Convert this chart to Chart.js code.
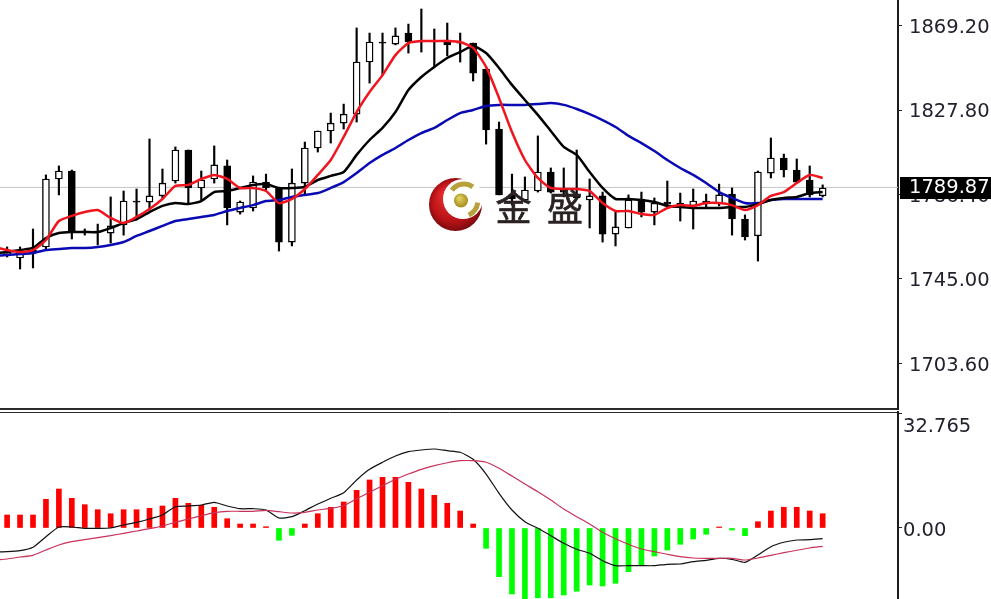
<!DOCTYPE html>
<html lang="zh">
  <head>
    <meta charset="UTF-8" />
    <title>金盛</title>
    <script src="https://cdn.jsdelivr.net/npm/chart.js"></script>
    <style>
      html, body { margin: 0; padding: 0; background: #fff; overflow: hidden; }
      canvas { position: absolute; left: 0; }
      #priceChart { top: 0; }
      #macdChart { top: 411px; }
    </style>
  </head>
  <body>
    <canvas id="priceChart" width="991" height="410"></canvas>
    <canvas id="macdChart" width="991" height="188"></canvas>

    <script>
      // values
      const opens = [1757.2,1755.3,1759.2,1760.7,1794.0,1797.9,1768.5,1768.5,1767.5,1771.5,1783.2,1782.7,1785.7,1793.0,1808.2,1789.6,1794.0,1800.4,1777.8,1779.8,1792.5,1789.6,1763.1,1792.0,1809.2,1817.5,1821.4,1825.8,1851.3,1861.1,1860.1,1865.5,1861.6,1861.6,1862.1,1861.1,1860.6,1847.9,1818.5,1786.2,1783.7,1788.1,1797.4,1788.6,1786.6,1783.7,1785.7,1767.0,1770.0,1784.2,1777.8,1782.7,1782.2,1780.8,1783.2,1782.2,1786.6,1774.4,1766.1,1796.9,1804.3,1798.4,1793.5,1785.7];
      const closes = [1758.2,1758.2,1757.7,1794.0,1797.9,1768.0,1768.0,1768.0,1771.0,1783.2,1782.7,1785.7,1792.0,1808.2,1789.6,1793.5,1800.9,1779.8,1782.7,1792.5,1789.6,1763.1,1792.0,1809.2,1817.5,1821.4,1825.8,1851.3,1861.1,1860.6,1864.1,1861.1,1861.1,1861.1,1859.7,1860.6,1845.9,1818.0,1786.2,1784.2,1788.6,1797.4,1787.6,1787.6,1784.7,1785.7,1767.0,1770.5,1783.7,1777.8,1782.2,1781.7,1780.8,1783.2,1782.2,1786.2,1774.4,1765.6,1797.4,1804.3,1798.4,1792.5,1786.2,1789.6];
      const highs = [1760.7,1760.7,1769.5,1796.0,1800.4,1798.4,1769.5,1771.9,1785.2,1788.1,1789.1,1813.6,1798.9,1809.7,1808.2,1797.9,1810.2,1803.3,1783.2,1795.5,1796.4,1789.6,1798.9,1812.1,1817.5,1826.3,1830.7,1868.0,1865.5,1865.5,1868.0,1869.9,1877.3,1867.5,1870.4,1865.5,1860.6,1847.9,1821.9,1796.4,1795.0,1815.1,1799.4,1799.4,1808.2,1794.0,1787.6,1777.8,1786.2,1787.6,1784.7,1793.0,1787.1,1789.1,1786.6,1791.5,1789.6,1776.4,1797.9,1814.1,1806.2,1803.8,1800.4,1791.1];
      const lows = [1755.8,1749.9,1750.4,1759.2,1786.2,1764.6,1766.5,1761.7,1762.6,1766.5,1773.9,1778.8,1784.7,1792.0,1781.7,1783.7,1792.0,1771.5,1776.8,1778.3,1788.6,1758.7,1761.2,1786.2,1807.2,1811.6,1818.5,1821.9,1841.0,1844.9,1859.7,1855.7,1856.2,1849.4,1854.3,1851.3,1842.0,1811.1,1786.2,1781.2,1782.7,1787.6,1787.1,1785.2,1784.7,1770.0,1763.1,1761.2,1770.0,1775.4,1771.5,1780.3,1773.4,1769.5,1780.3,1780.8,1766.5,1764.1,1753.8,1794.5,1795.0,1792.0,1785.2,1785.2];
      // the line arrays start one bar earlier, off the left edge
      const redMa = [1760.7,1759.2,1758.2,1759.2,1764.1,1773.4,1775.9,1777.8,1778.8,1774.9,1772.4,1775.4,1779.3,1784.2,1790.6,1791.1,1794.0,1796.0,1794.0,1789.6,1789.6,1788.1,1782.2,1784.2,1789.1,1796.0,1803.3,1814.6,1826.8,1836.6,1844.9,1854.7,1860.6,1861.6,1861.6,1861.6,1861.1,1858.2,1848.9,1833.7,1817.0,1803.3,1794.5,1789.6,1789.1,1789.1,1788.1,1782.2,1778.3,1778.3,1776.8,1776.4,1779.8,1781.2,1780.8,1782.2,1782.2,1781.2,1778.8,1781.2,1785.7,1787.6,1792.0,1796.0,1794.5];
      const blackMa = [1757.7,1758.2,1759.2,1760.2,1765.1,1767.5,1768.0,1768.0,1768.0,1770.0,1772.4,1774.4,1777.8,1780.8,1782.2,1781.7,1783.2,1787.6,1788.1,1789.6,1791.1,1791.5,1789.6,1789.6,1790.1,1793.5,1795.5,1797.4,1805.8,1813.1,1819.0,1826.8,1837.6,1844.0,1848.9,1853.3,1856.2,1859.2,1855.7,1848.4,1840.1,1832.7,1825.4,1817.5,1809.7,1805.8,1797.4,1789.6,1784.2,1784.2,1783.7,1782.7,1780.8,1780.3,1779.8,1779.8,1779.8,1780.3,1780.3,1781.7,1783.7,1784.7,1785.2,1787.1,1787.6];
      const blueMa = [1756.3,1756.8,1757.2,1757.7,1759.2,1759.7,1760.2,1760.2,1760.7,1761.7,1763.1,1766.1,1768.5,1771.0,1773.4,1774.4,1775.4,1776.4,1778.3,1779.8,1781.2,1783.2,1783.7,1785.2,1786.2,1787.1,1789.6,1792.5,1796.9,1801.8,1805.8,1809.2,1813.1,1816.5,1819.0,1822.9,1826.3,1827.8,1829.8,1830.3,1830.3,1830.3,1830.7,1831.2,1830.3,1828.3,1825.8,1822.9,1819.5,1815.1,1811.6,1807.7,1803.3,1799.4,1796.0,1792.0,1787.6,1784.7,1782.2,1782.2,1783.7,1784.2,1784.2,1784.2,1784.2];
      const macdHist = [3.70,3.70,3.70,8.18,11.11,8.46,6.64,5.21,4.07,5.21,5.21,5.61,6.27,8.46,7.04,6.47,5.90,2.65,1.14,1.14,0.37,-3.50,-2.08,1.14,4.07,5.90,7.41,10.74,13.68,14.44,14.44,13.02,11.11,9.32,7.04,4.84,1.14,-5.78,-13.87,-18.80,-20.51,-19.86,-19.86,-19.09,-18.03,-16.24,-16.52,-15.75,-12.45,-10.74,-7.98,-6.27,-4.64,-3.13,-1.79,0.30,-0.57,-2.19,1.79,4.84,5.90,5.90,4.84,4.07];
      const macdLine = [-6.84,-6.75,-6.47,-5.50,-2.48,0.28,0.28,-0.09,-0.09,0,0.85,1.62,2.56,3.70,6.07,6.27,6.55,7.32,6.27,5.50,5.50,5.13,2.85,3.22,4.93,6.84,8.46,10.06,13.68,16.72,18.72,20.51,21.74,22.22,22.51,22.02,21.57,19.57,15.38,9.89,5.13,1.79,-0.09,-2.19,-4.36,-6.07,-7.21,-9.32,-10.74,-10.74,-10.74,-10.74,-10.34,-10.26,-9.60,-9.20,-8.63,-8.92,-9.77,-7.69,-5.33,-4.07,-3.42,-3.33,-3.05];
      const signalLine = [-9.12,-8.83,-8.26,-7.78,-6.27,-4.84,-3.90,-3.33,-2.76,-2.19,-1.51,-0.85,-0.20,0.57,1.62,2.56,3.50,4.36,4.76,4.76,4.76,5.04,4.64,4.27,4.47,5.13,5.61,6.35,8.35,10.17,12.05,13.87,15.38,16.72,17.75,18.60,19.17,19.17,18.72,17.01,14.81,12.54,10.34,7.98,5.41,3.22,1.14,-1.23,-3.05,-4.64,-5.98,-6.75,-7.49,-8.18,-8.55,-8.63,-8.63,-8.63,-9.12,-8.55,-7.78,-7.04,-6.35,-5.70,-5.21];
      const priceTicks = [1869.2, 1827.8, 1786.4, 1745.0, 1703.6];
      const macdTicks = [32.765, 0];
      const lastPrice = 1789.87;

      const fontFamily = "'DejaVu Sans'";
      const xMin = -0.549;
      const xMax = 68.82;

      function noPad(s) {
        s.paddingTop = 0;
        s.paddingBottom = 0;
        s.paddingLeft = 0;
        s.paddingRight = 0;
      }

      function xAxis(position) {
        return {
          type: "linear",
          position: position,
          min: xMin,
          max: xMax,
          offset: false,
          ticks: { display: false },
          grid: { display: false, drawTicks: false },
          border: { display: true, color: "#2a2a2a", width: position === "top" ? 1 : 2 },
          afterFit: (s) => { s.height = 0; noPad(s); },
        };
      }

      // labels are two lines with an empty first one: the line height sets how far they sit below the tick
      function yAxis(min, max, tickValues, padding, labelFn, lineHeightFn) {
        return {
          position: "right",
          min: min,
          max: max,
          afterBuildTicks: (s) => { s.ticks = tickValues.map((v) => ({ value: v })); },
          afterFit: (s) => { s.width = 93; noPad(s); },
          border: { color: "#1c1c1c", width: 2 },
          grid: { drawOnChartArea: false, drawTicks: true, tickLength: 4, color: "#222", offset: false },
          ticks: {
            autoSkip: false,
            padding: padding,
            color: "#22222e",
            font: (ctx) => ({ family: fontFamily, size: 19.5, lineHeight: lineHeightFn(ctx.index) }),
            callback: labelFn,
          },
        };
      }

      function lineSet(values, color, width, order) {
        return {
          type: "line",
          data: values.map((v, i) => ({ x: i - 1, y: v })),
          borderColor: color,
          borderWidth: width,
          pointRadius: 0,
          tension: 0.2,
          order: order,
        };
      }

      // price box and the watermark go on top of everything
      const overlayPlugin = {
        id: "overlay",
        afterDraw(chart) {
          const ctx = chart.ctx;
          ctx.save();
          ctx.fillStyle = "#000";
          ctx.fillRect(900, 177, 91, 22);
          ctx.fillStyle = "#fff";
          ctx.font = "19.5px 'DejaVu Sans'";
          ctx.textAlign = "left";
          ctx.textBaseline = "middle";
          ctx.fillText(lastPrice.toFixed(2), 909, 188);

          // logo
          const g = ctx.createRadialGradient(445, 195, 4, 455, 204, 27);
          g.addColorStop(0, "#e02a2a");
          g.addColorStop(0.7, "#b81216");
          g.addColorStop(1, "#7c0c10");
          ctx.fillStyle = g;
          ctx.beginPath();
          ctx.arc(455.5, 204.5, 26.5, 0, Math.PI * 2);
          ctx.fill();
          ctx.fillStyle = "#fff";
          ctx.beginPath();
          ctx.arc(463, 199, 20, 0, Math.PI * 2);
          ctx.fill();
          ctx.strokeStyle = "#b8a13a";
          ctx.lineWidth = 5;
          ctx.beginPath();
          ctx.arc(464, 199, 15, Math.PI * 1.2, Math.PI * 1.7);
          ctx.stroke();
          ctx.beginPath();
          ctx.arc(461, 200, 17, Math.PI * 0.05, Math.PI * 0.35);
          ctx.stroke();
          const b = ctx.createRadialGradient(459, 198, 1, 461, 200, 7);
          b.addColorStop(0, "#e0d060");
          b.addColorStop(1, "#a89020");
          ctx.fillStyle = b;
          ctx.beginPath();
          ctx.arc(461, 200.5, 7, 0, Math.PI * 2);
          ctx.fill();

          ctx.fillStyle = "#2a2222";
          ctx.strokeStyle = "#2a2222";
          ctx.lineWidth = 0.7;
          ctx.font = "36px 'Noto Sans CJK SC'";
          ctx.textAlign = "center";
          ctx.fillText("金", 513.5, 207);
          ctx.strokeText("金", 513.5, 207);
          ctx.fillText("盛", 565, 207);
          ctx.strokeText("盛", 565, 207);
          ctx.restore();
        },
      };

      const candleIdx = opens.map((_, i) => i);

      new Chart(document.getElementById("priceChart"), {
        type: "bar",
        data: {
          datasets: [
            {
              type: "line",
              data: [{ x: xMin, y: lastPrice }, { x: xMax, y: lastPrice }],
              borderColor: "#c4c4c4",
              borderWidth: 1,
              pointRadius: 0,
              order: 10,
            },
            {
              data: candleIdx.map((i) => ({ x: i, y: [lows[i], highs[i]] })),
              backgroundColor: "#000",
              barThickness: 1.5,
              grouped: false,
              order: 9,
            },
            {
              data: candleIdx.map((i) => ({ x: i, y: [opens[i], closes[i]] })),
              backgroundColor: candleIdx.map((i) => (closes[i] > opens[i] ? "#fff" : "#000")),
              borderColor: "#000",
              borderWidth: 1.4,
              borderSkipped: false,
              barThickness: 7,
              grouped: false,
              order: 8,
            },
            lineSet(blueMa, "#0a0ab4", 2.5, 3),
            lineSet(blackMa, "#000", 2.5, 2),
            lineSet(redMa, "#f0141e", 2.5, 1),
          ],
        },
        options: {
          responsive: false,
          animation: false,
          layout: { padding: { bottom: 1 } },
          plugins: { legend: { display: false }, tooltip: { enabled: false } },
          scales: {
            x: xAxis("bottom"),
            y: yAxis(1681.3, 1881.7, priceTicks, 7, (v) => ["", v.toFixed(2)], () => "4px"),
          },
        },
        plugins: [overlayPlugin],
      });

      new Chart(document.getElementById("macdChart"), {
        type: "bar",
        data: {
          datasets: [
            {
              data: macdHist.map((v, i) => ({ x: i, y: v })),
              backgroundColor: macdHist.map((v) => (v >= 0 ? "#ff0000" : "#00ff00")),
              barThickness: 5,
              grouped: false,
              order: 5,
            },
            lineSet(macdLine, "#111", 1.2, 2),
            lineSet(signalLine, "#c8325a", 1.2, 1),
          ],
        },
        options: {
          responsive: false,
          animation: false,
          layout: { padding: { top: 1 } },
          plugins: { legend: { display: false }, tooltip: { enabled: false } },
          scales: {
            x: xAxis("top"),
            y: yAxis(-20.23, 33.05, macdTicks, 1, (v) => ["", v === 0 ? "0.00" : String(v)], (i) => (i === 0 ? "27px" : "6px")),
          },
        },
      });
    </script>
  </body>
</html>
